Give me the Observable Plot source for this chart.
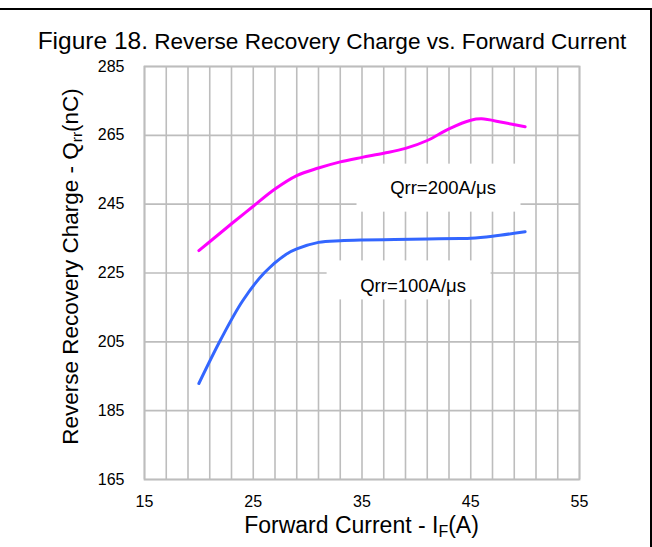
<!DOCTYPE html>
<html>
<head>
<meta charset="utf-8">
<script src="https://cdn.jsdelivr.net/npm/d3@7"></script>
<script src="https://cdn.jsdelivr.net/npm/@observablehq/plot@0.6"></script>
<style>
  html, body { margin: 0; padding: 0; background: #fff; }
  #wrap { position: relative; width: 652px; height: 547px; overflow: hidden; font-family: "Liberation Sans", Arial, sans-serif; }
  #topline { position: absolute; left: 0; top: 8px; width: 652px; height: 2px; background: #000; }
  #rightline { position: absolute; left: 650px; top: 8px; width: 2px; height: 539px; background: #000; }
  #title { position: absolute; left: 0; top: 26px; width: 664px; text-align: center; white-space: nowrap; color: #000; font-size: 22.6px; line-height: 30px; }
  #title .fig { font-size: 24.5px; }
  #chart { position: absolute; left: 0; top: 0; }
</style>
</head>
<body>
<div id="wrap">
  <div id="chart"></div>
  <div id="topline"></div>
  <div id="rightline"></div>
  <div id="title"><span class="fig">Figure 18.</span> Reverse Recovery Charge vs. Forward Current</div>
</div>
<script>
// Data
const pinkX   = [20, 22, 23, 25, 27, 29, 31, 33, 35, 37, 39, 41, 43, 45, 46, 48, 50];
const pinkQrr = [231.5, 236.7, 239.3, 244.4, 249.4, 253.3, 255.5, 257.3, 258.6, 259.8, 261.2, 263.5, 266.9, 269.4, 269.8, 268.7, 267.5];
const blueX   = [20, 22, 24, 26, 28, 29, 31, 33, 35, 38, 41, 44, 45, 47, 50];
const blueQrr = [192.9, 205.6, 216.8, 225.0, 230.4, 232.0, 233.9, 234.4, 234.6, 234.7, 234.9, 235.0, 235.1, 235.7, 237.0];
const seriesNames = ["Qrr=200A/μs", "Qrr=100A/μs"];
const labelX = [42.45, 39.7];
const labelY = [249.8, 221.1];
const xTickLabels = [15, 25, 35, 45, 55];
const xGridTicks = [15, 17, 19, 21, 23, 25, 27, 29, 31, 33, 35, 37, 39, 41, 43, 45, 47, 49, 51, 53, 55];
const yTicks = [165, 185, 205, 225, 245, 265, 285];

const pink = pinkX.map((x, i) => ({x, y: pinkQrr[i]}));
const blue = blueX.map((x, i) => ({x, y: blueQrr[i]}));
const labels = seriesNames.map((t, i) => ({text: t, x: labelX[i], y: labelY[i]}));

const boxOffsets = [[-86.5, 77.5, -24, 24], [-86.5, 77.5, -26, 13]];

const W = 652, H = 547;
const mL = 144, mR = 73, mT = 66, mB = 68;

const plot = Plot.plot({
  width: W,
  height: H,
  marginLeft: mL,
  marginRight: mR,
  marginTop: mT,
  marginBottom: mB,
  style: {fontFamily: '"Liberation Sans", Arial, sans-serif', fontSize: "16px", color: "#000", background: "transparent"},
  x: {domain: [15, 55]},
  y: {domain: [165, 285]},
  marks: [
    Plot.gridX(xGridTicks, {stroke: "#bdbdbd", strokeOpacity: 1, strokeWidth: 1.6}),
    Plot.gridY(yTicks, {stroke: "#bdbdbd", strokeOpacity: 1, strokeWidth: 1.6}),
    Plot.frame({stroke: "#bdbdbd", strokeWidth: 1.8}),
    Plot.axisX(xTickLabels, {tickSize: 0, tickPadding: 16, label: null, fill: "#000", fontSize: 16}),
    Plot.axisY(yTicks, {tickSize: 0, tickPadding: 20, label: null, fill: "#000", fontSize: 16}),
    Plot.line(pink, {x: "x", y: "y", stroke: "#ff00ff", strokeWidth: 3, curve: "catmull-rom"}),
    Plot.line(blue, {x: "x", y: "y", stroke: "#3366ff", strokeWidth: 3, curve: "catmull-rom"}),
    Plot.text(labels, {
      x: "x", y: "y", text: "text", fontSize: 18.5, fill: "#000",
      render(index, scales, values, dimensions, context, next) {
        const g = next(index, scales, values, dimensions, context);
        const ns = "http://www.w3.org/2000/svg";
        for (const i of index) {
          const [l, r, t, b] = boxOffsets[i];
          const cx = values.x[i], cy = values.y[i];
          const rect = document.createElementNS(ns, "rect");
          rect.setAttribute("x", cx + l);
          rect.setAttribute("y", cy + t);
          rect.setAttribute("width", r - l);
          rect.setAttribute("height", b - t);
          rect.setAttribute("fill", "#fff");
          g.insertBefore(rect, g.firstChild);
        }
        return g;
      }
    })
  ]
});

// Axis titles with subscripts
const svg = d3.select(plot);
const xt = svg.append("text")
  .attr("x", mL + (W - mL - mR) / 2)
  .attr("y", 533)
  .attr("text-anchor", "middle")
  .attr("font-size", 23)
  .attr("fill", "#000");
xt.append("tspan").text("Forward Current - I");
xt.append("tspan").attr("font-size", 16).attr("dy", 4).text("F");
xt.append("tspan").attr("dy", -4).text("(A)");

const yt = svg.append("text")
  .attr("transform", `translate(78, ${(86 + 447) / 2}) rotate(-90)`)
  .attr("text-anchor", "middle")
  .attr("font-size", 22.5)
  .attr("fill", "#000");
yt.append("tspan").text("Reverse Recovery Charge - Q");
yt.append("tspan").attr("font-size", 15.5).attr("dy", 4).text("rr");
yt.append("tspan").attr("dy", -4).text("(nC)");

document.getElementById("chart").appendChild(plot);
</script>
</body>
</html>
